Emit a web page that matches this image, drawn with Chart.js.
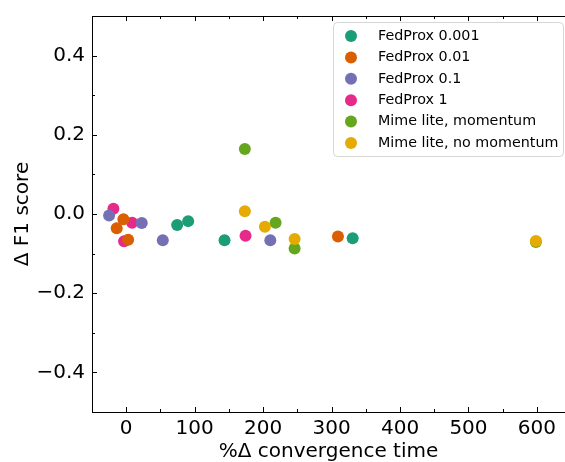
<!DOCTYPE html>
<html>
<head>
<meta charset="utf-8">
<script src="https://cdn.jsdelivr.net/npm/chart.js@4.4.1/dist/chart.umd.min.js"></script>
<style>
  html, body { margin: 0; padding: 0; background: #fff; overflow: hidden; }
  #wrap { width: 565px; height: 462px; }
</style>
</head>
<body>
<div id="wrap"><canvas id="chart"></canvas></div>
<script>
// series (x = % change in convergence time, y = change in F1 score)
const seriesNames = ["FedProx 0.001", "FedProx 0.01", "FedProx 0.1", "FedProx 1", "Mime lite, momentum", "Mime lite, no momentum"];
const seriesColors = ["#1b9e77", "#d95f02", "#7570b3", "#e7298a", "#66a61e", "#e6ab02"];

const fedprox0001X = [74.4, 90.5, 143.6, 330.8];
const fedprox0001Y = [-0.028, -0.018, -0.066, -0.061];
const fedprox001X = [-4.1, -13.9, 2.8, 309.3];
const fedprox001Y = [-0.013, -0.036, -0.065, -0.057];
const fedprox01X = [-25.0, 22.7, 53.4, 210.5];
const fedprox01Y = [-0.004, -0.023, -0.066, -0.066];
const fedprox1X = [-18.7, 8.6, -3.1, 174.3];
const fedprox1Y = [0.013, -0.022, -0.069, -0.055];
const mimeMomX = [173.3, 218.2, 246.0, 598.5];
const mimeMomY = [0.164, -0.022, -0.087, -0.071];
const mimeNoMomX = [173.3, 202.6, 246.0, 598.5];
const mimeNoMomY = [0.007, -0.032, -0.063, -0.068];

const xTicks = [0, 100, 200, 300, 400, 500, 600];
const yTicks = [-0.4, -0.2, 0.0, 0.2, 0.4];
const yTickLabels = ["\u22120.4", "\u22120.2", "0.0", "0.2", "0.4"];

const seriesX = [fedprox0001X, fedprox001X, fedprox01X, fedprox1X, mimeMomX, mimeNoMomX];
const seriesY = [fedprox0001Y, fedprox001Y, fedprox01Y, fedprox1Y, mimeMomY, mimeNoMomY];
// which one is painted last (lower = on top)
const drawOrder = [5, 4, 3, 6, 2, 1];

const FONT = "DejaVu Sans";

const datasets = seriesNames.map((name, i) => ({
    label: name,
    data: seriesX[i].map((x, j) => ({ x: x, y: seriesY[i][j] })),
    backgroundColor: seriesColors[i],
    borderWidth: 0,
    pointRadius: 6,
    pointHoverRadius: 6,
    order: drawOrder[i]
}));

// inward ticks (major + minor) on bottom, top and left, plus top spine
const tickPlugin = {
    id: "inwardTicks",
    afterDraw(chart) {
        const ctx = chart.ctx;
        const a = chart.chartArea;
        const xs = chart.scales.x, ys = chart.scales.y;
        ctx.save();
        ctx.strokeStyle = "#000";
        ctx.lineWidth = 1;
        ctx.beginPath();
        ctx.moveTo(a.left, a.top + 0.5);
        ctx.lineTo(a.right, a.top + 0.5);
        ctx.stroke();
        for (let v = -50; v <= 650; v += 50) {
            if (v < xs.min || v > xs.max) continue;
            const px = Math.round(xs.getPixelForValue(v)) + 0.5;
            const len = v % 100 === 0 ? 5 : 3;
            ctx.beginPath();
            ctx.moveTo(px, a.bottom);
            ctx.lineTo(px, a.bottom - len);
            ctx.moveTo(px, a.top);
            ctx.lineTo(px, a.top + len);
            ctx.stroke();
        }
        for (let k = -4; k <= 4; k++) {
            const v = k / 10;
            const py = Math.round(ys.getPixelForValue(v)) + 0.5;
            const len = k % 2 === 0 ? 5 : 3;
            ctx.beginPath();
            ctx.moveTo(a.left, py);
            ctx.lineTo(a.left + len, py);
            ctx.stroke();
        }
        ctx.restore();
    }
};

// matplotlib-like legend box in the upper right
const legendPlugin = {
    id: "boxLegend",
    afterDraw(chart) {
        const ctx = chart.ctx;
        const x0 = 333, y0 = 22, w = 230, h = 134, r = 4;
        ctx.save();
        ctx.globalAlpha = 0.8;
        ctx.fillStyle = "#fff";
        ctx.strokeStyle = "#cccccc";
        ctx.lineWidth = 1;
        ctx.beginPath();
        ctx.roundRect(x0 + 0.5, y0 + 0.5, w, h, r);
        ctx.fill();
        ctx.stroke();
        ctx.globalAlpha = 1;
        ctx.font = "14.3px '" + FONT + "'";
        ctx.textBaseline = "middle";
        chart.data.datasets.forEach((ds, i) => {
            const cy = y0 + 14 + i * 21.4;
            ctx.fillStyle = ds.backgroundColor;
            ctx.beginPath();
            ctx.arc(351, cy, 6, 0, Math.PI * 2);
            ctx.fill();
            ctx.fillStyle = "#000";
            ctx.fillText(ds.label, 378, cy);
        });
        ctx.restore();
    }
};

new Chart(document.getElementById("chart"), {
    type: "scatter",
    data: { datasets: datasets },
    options: {
        responsive: true,
        maintainAspectRatio: false,
        animation: false,
        layout: { autoPadding: false, padding: { top: 16, right: 0, bottom: 0, left: 0 } },
        plugins: {
            legend: { display: false },
            tooltip: { enabled: false }
        },
        scales: {
            x: {
                type: "linear",
                min: -50,
                max: 641,
                afterBuildTicks: (s) => { s.ticks = xTicks.map(v => ({ value: v })); },
                afterFit: (s) => { s.height = 50; s.paddingRight = 0; s.paddingLeft = 0; },
                grid: { display: false, drawTicks: false },
                border: { display: true, color: "#000", width: 1 },
                ticks: {
                    color: "#000",
                    padding: 5,
                    maxRotation: 0,
                    font: { family: FONT, size: 20 },
                    callback: (v) => String(v)
                },
                title: {
                    display: true,
                    text: "%\u0394 convergence time",
                    color: "#000",
                    font: { family: FONT, size: 20, lineHeight: 1 },
                    padding: { top: 0, bottom: 0 }
                }
            },
            y: {
                type: "linear",
                min: -0.5,
                max: 0.5,
                afterBuildTicks: (s) => { s.ticks = yTicks.map(v => ({ value: v })); },
                afterFit: (s) => { s.width = 92; s.paddingTop = 0; s.paddingBottom = 0; },
                grid: { display: false, drawTicks: false },
                border: { display: true, color: "#000", width: 1 },
                ticks: {
                    color: "#000",
                    padding: 7,
                    font: { family: FONT, size: 20 },
                    callback: (v) => {
                        const i = yTicks.findIndex(t => Math.abs(t - v) < 1e-9);
                        return i >= 0 ? yTickLabels[i] : "";
                    }
                },
                title: {
                    display: true,
                    text: "\u0394 F1 score",
                    color: "#000",
                    font: { family: FONT, size: 20, lineHeight: 1 },
                    padding: { top: 13, bottom: 0 }
                }
            }
        }
    },
    plugins: [tickPlugin, legendPlugin]
});
</script>
</body>
</html>
